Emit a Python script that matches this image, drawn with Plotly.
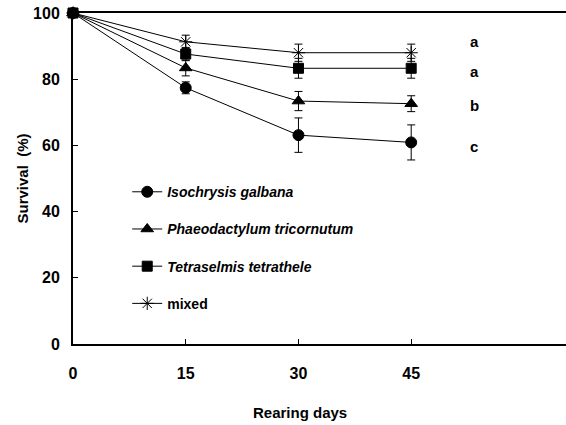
import plotly.graph_objects as go

days = [0, 15, 30, 45]
series_names = ["Isochrysis galbana", "Phaeodactylum tricornutum", "Tetraselmis tetrathele", "mixed"]
isochrysis = [100, 77.4, 63.1, 60.9]
isochrysis_err = [0, 1.8, 5.2, 5.3]
phaeodactylum = [100, 83.4, 73.4, 72.6]
phaeodactylum_err = [0, 2.4, 2.9, 2.4]
tetraselmis = [100, 87.6, 83.3, 83.3]
tetraselmis_err = [0, 2.0, 3.0, 3.0]
mixed = [100, 91.3, 88.0, 88.0]
mixed_err = [0, 2.0, 2.6, 2.6]
letters = ["a", "a", "b", "c"]
letter_y = [91.3, 82.3, 72.2, 59.8]

values = [isochrysis, phaeodactylum, tetraselmis, mixed]
errs = [isochrysis_err, phaeodactylum_err, tetraselmis_err, mixed_err]
symbols = ["circle", "triangle-up", "square", "asterisk-open"]
sizes = [11, 11, 10, 11]

W, H = 566, 425
L, T, R_EDGE, B_EDGE = 73, 13, 566, 344
PW, PH = R_EDGE - L, B_EDGE - T

FONT = "Liberation Sans"
fig = go.Figure()
for i, (name, v, e, s, sz) in enumerate(zip(series_names, values, errs, symbols, sizes)):
    label = f"<b><i>{name}</i></b>" if name != "mixed" else f"<b>{name}</b>"
    fig.add_trace(go.Scatter(
        x=days, y=v, name=label, mode="lines+markers",
        line=dict(color="black", width=1),
        marker=dict(symbol=s, size=sz, color="black", line=dict(color="black", width=1)),
        error_y=dict(type="data", array=e, color="black", thickness=1, width=4),
        cliponaxis=False, legendgroup=str(i),
    ))

for t, yv in zip(letters, letter_y):
    fig.add_annotation(x=53.4, y=yv, text=f"<b>{t}</b>", showarrow=False,
                       font=dict(family=FONT, size=15, color="black"))

fig.add_annotation(x=(300 - L) / PW, y=(B_EDGE - 412) / PH, xref="paper", yref="paper",
                   text="<b>Rearing days</b>", showarrow=False, xanchor="center", yanchor="middle",
                   font=dict(family=FONT, size=15, color="black"))
fig.add_annotation(x=(22 - L) / PW, y=0.5, xref="paper", yref="paper", textangle=-90,
                   text="<b>Survival  (%)</b>", showarrow=False, xanchor="center", yanchor="middle",
                   font=dict(family=FONT, size=15, color="black"))

fig.update_layout(
    template="none",
    width=W, height=H,
    margin=dict(l=L, r=W - R_EDGE, t=T, b=H - B_EDGE, autoexpand=False),
    paper_bgcolor="white", plot_bgcolor="white",
    font=dict(family=FONT, size=16, color="black"),
    showlegend=True,
    legend=dict(x=0.11, y=0.507, xanchor="left", yanchor="top",
                font=dict(family=FONT, size=14, color="black"),
                tracegroupgap=16, bgcolor="rgba(0,0,0,0)"),
    xaxis=dict(range=[0, 65.6], tickvals=[0, 15, 30, 45],
               ticktext=["<b>0</b>", "<b>15</b>", "<b>30</b>", "<b>45</b>"],
               showline=True, linecolor="black", linewidth=2, mirror=True,
               ticks="inside", ticklen=5, tickwidth=1, tickcolor="black",
               showgrid=False, zeroline=False, ticklabelstandoff=14, automargin=False),
    yaxis=dict(range=[0, 100], tickvals=[0, 20, 40, 60, 80, 100],
               ticktext=["<b>0</b>", "<b>20</b>", "<b>40</b>", "<b>60</b>", "<b>80</b>", "<b>100</b>"],
               showline=True, linecolor="black", linewidth=2,
               ticks="inside", ticklen=5, tickwidth=1, tickcolor="black",
               showgrid=False, zeroline=False, ticklabelstandoff=8, automargin=False),
)

fig.write_html(
    "out.html",
    config={"displayModeBar": False},
    post_script="document.body.style.margin='0';document.body.style.overflow='hidden';",
)
